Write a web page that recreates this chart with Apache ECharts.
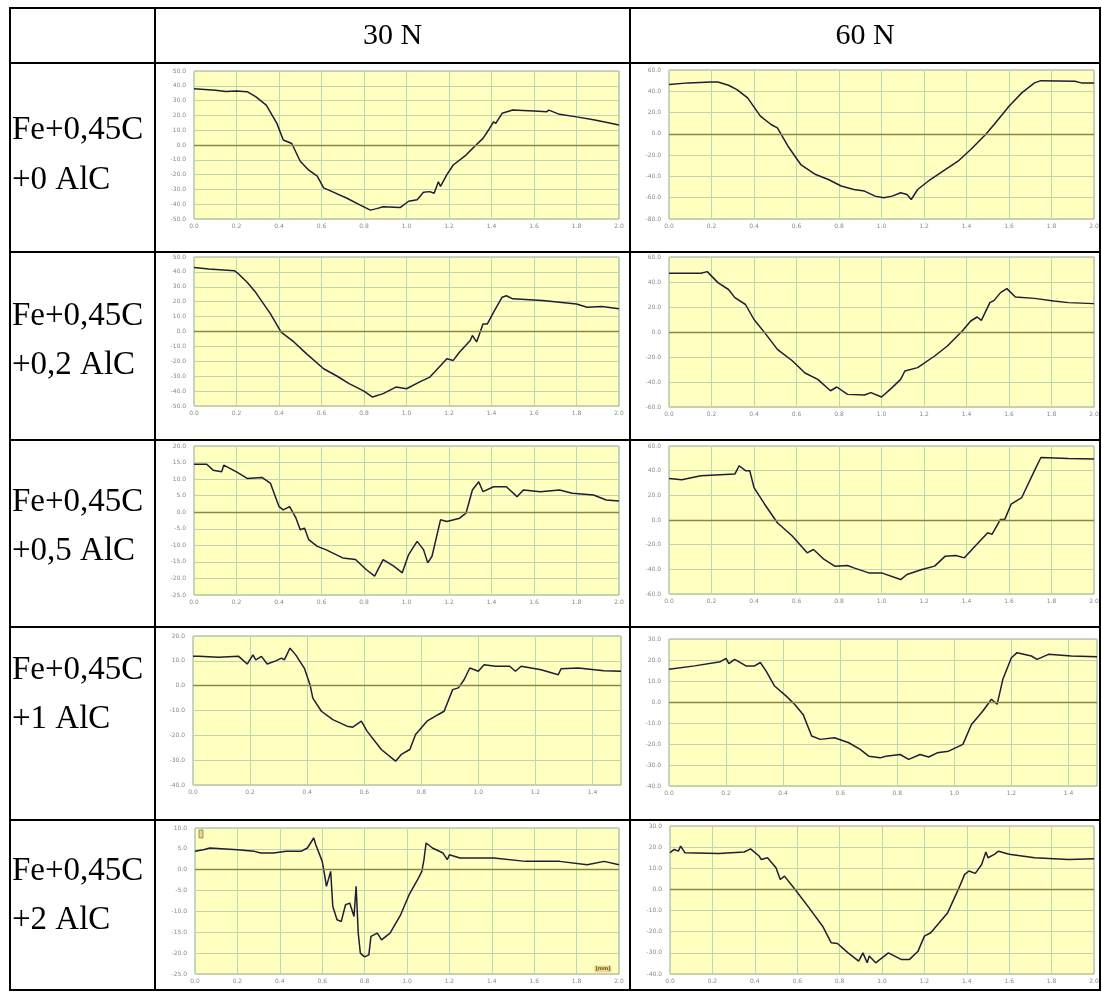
<!DOCTYPE html>
<html>
<head>
<meta charset="utf-8">
<script src="https://cdn.jsdelivr.net/npm/echarts@6/dist/echarts.min.js"></script>
<style>
html,body{margin:0;padding:0;background:#fff;}
#chart{width:1102px;height:1004px;}
</style>
</head>
<body>
<div id="chart"></div>
<script>
// ---------- DATA ----------
const columnTitles = ["30 N", "60 N"];
const rowLine1 = ["Fe+0,45C", "Fe+0,45C", "Fe+0,45C", "Fe+0,45C", "Fe+0,45C"];
const rowLine2 = ["+0 AlC", "+0,2 AlC", "+0,5 AlC", "+1 AlC", "+2 AlC"];

// y axis ranges per chart [min, max, step]
const yAxisTicks = {
  r0_30: [-50, 50, 10], r0_60: [-80, 60, 20],
  r1_30: [-50, 50, 10], r1_60: [-60, 60, 20],
  r2_30: [-25, 20, 5],  r2_60: [-60, 60, 20],
  r3_30: [-40, 20, 10], r3_60: [-40, 30, 10],
  r4_30: [-25, 10, 5],  r4_60: [-40, 30, 10]
};
// x axis ranges per chart [min, max, step]
const xAxisTicks = {
  r0_30: [0, 2.0, 0.2], r0_60: [0, 2.0, 0.2],
  r1_30: [0, 2.0, 0.2], r1_60: [0, 2.0, 0.2],
  r2_30: [0, 2.0, 0.2], r2_60: [0, 2.0, 0.2],
  r3_30: [0, 1.5, 0.2], r3_60: [0, 1.5, 0.2],
  r4_30: [0, 2.0, 0.2], r4_60: [0, 2.0, 0.2]
};

const r0_30 = [[0,38],[0.05,37.5],[0.1,37],[0.15,36.2],[0.2,36.5],[0.25,36],[0.29,32.7],[0.34,27],[0.39,14.6],[0.42,3.4],[0.46,1],[0.5,-11],[0.54,-17],[0.58,-21],[0.61,-29],[0.65,-31.5],[0.72,-36],[0.78,-40.5],[0.83,-44],[0.86,-43],[0.89,-41.7],[0.97,-42.3],[1.01,-38],[1.05,-37],[1.08,-32],[1.11,-31.5],[1.13,-32.6],[1.15,-24.8],[1.16,-28],[1.19,-20],[1.22,-13.5],[1.28,-6.8],[1.32,-1],[1.36,4.5],[1.39,11],[1.41,15.7],[1.42,14.6],[1.45,21.4],[1.5,23.6],[1.6,23],[1.66,22.5],[1.67,23.6],[1.72,20.7],[1.8,19],[1.88,17],[1.95,15],[2.0,13.5]];
const r0_60 = [[0,46.3],[0.09,47.9],[0.2,48.8],[0.23,48.8],[0.28,45.7],[0.32,41.6],[0.37,33.8],[0.43,16.6],[0.48,8.8],[0.51,5.6],[0.56,-11.6],[0.62,-28.8],[0.69,-38.2],[0.75,-42.9],[0.81,-49],[0.87,-52.3],[0.92,-53.8],[0.97,-58.5],[1.01,-60],[1.05,-58.5],[1.09,-55.4],[1.12,-57],[1.14,-61.7],[1.17,-52.3],[1.23,-42.9],[1.3,-33.5],[1.36,-25.7],[1.42,-14.7],[1.49,-0.6],[1.53,8.8],[1.6,26],[1.66,38.5],[1.72,47.9],[1.75,50],[1.91,49.5],[1.94,47.9],[2.0,47.9]];
const r1_30 = [[0,43],[0.07,42],[0.19,40.8],[0.21,38.6],[0.25,33],[0.29,26.3],[0.36,11.8],[0.41,-0.4],[0.47,-7],[0.53,-15],[0.61,-25],[0.67,-29.7],[0.73,-35],[0.8,-40],[0.84,-44],[0.89,-41.7],[0.95,-37.3],[1.0,-38.4],[1.06,-34],[1.11,-30.6],[1.14,-26],[1.19,-18.3],[1.22,-19.4],[1.25,-13.8],[1.3,-6],[1.31,-2.7],[1.33,-7],[1.36,5],[1.38,5],[1.41,13],[1.45,23],[1.47,24],[1.5,21.9],[1.64,20.8],[1.8,18.5],[1.85,16.3],[1.92,16.7],[2.0,15.2]];
const r1_60 = [[0,47],[0.15,47],[0.18,48.3],[0.23,39.5],[0.28,34],[0.31,27.5],[0.36,22],[0.4,10],[0.45,-0.5],[0.51,-13.9],[0.58,-23],[0.64,-32.8],[0.7,-37.9],[0.76,-47],[0.79,-44],[0.84,-49.9],[0.92,-50.4],[0.95,-48.5],[1.0,-52],[1.05,-44.5],[1.09,-37.9],[1.11,-31.2],[1.17,-28.5],[1.25,-19.2],[1.31,-11.2],[1.38,0.8],[1.42,8.8],[1.45,12],[1.47,9.3],[1.51,23.5],[1.53,25.3],[1.56,31.5],[1.59,34.7],[1.63,28],[1.72,26.9],[1.81,24.8],[1.88,23.5],[2.0,22.7]];
const r2_30 = [[0,14.5],[0.06,14.5],[0.09,12.7],[0.13,12.2],[0.14,14.2],[0.2,12.2],[0.25,10.2],[0.32,10.5],[0.36,8.7],[0.4,1.7],[0.42,0.7],[0.45,1.7],[0.48,-1.8],[0.5,-5.3],[0.52,-4.8],[0.54,-8.3],[0.58,-10.3],[0.62,-11.3],[0.7,-13.8],[0.76,-14.3],[0.81,-17.3],[0.85,-19.3],[0.89,-14.3],[0.94,-16.3],[0.97,-17.8],[0.98,-18.3],[1.01,-12.8],[1.05,-8.8],[1.08,-11.3],[1.1,-15.3],[1.12,-13.3],[1.16,-2.3],[1.19,-2.8],[1.25,-1.8],[1.28,-0.3],[1.31,6.7],[1.34,9.2],[1.36,6.2],[1.41,7.7],[1.47,7.7],[1.52,4.7],[1.55,6.7],[1.63,6.2],[1.72,6.7],[1.78,5.7],[1.88,5.2],[1.94,3.7],[2.0,3.4]];
const r2_60 = [[0,33.6],[0.06,32.6],[0.15,35.8],[0.31,37.2],[0.33,44],[0.36,40],[0.38,40],[0.4,26.3],[0.45,12.8],[0.51,-2.2],[0.58,-13],[0.65,-26.6],[0.68,-23.9],[0.73,-32],[0.78,-37.4],[0.84,-36.9],[0.87,-38.8],[0.94,-42.9],[1.0,-42.9],[1.09,-48.3],[1.12,-44.2],[1.19,-40.2],[1.25,-37.4],[1.3,-29.3],[1.35,-28.8],[1.39,-30.7],[1.44,-21.2],[1.5,-10.3],[1.52,-11.7],[1.56,0.5],[1.58,0.5],[1.61,12.8],[1.66,18.2],[1.72,40],[1.75,50.7],[1.88,49.9],[2.0,49.4]];
const r3_30 = [[0,11.8],[0.02,11.8],[0.09,11.4],[0.16,11.8],[0.19,8.7],[0.21,12.4],[0.22,10.4],[0.24,11.8],[0.26,8.7],[0.29,10],[0.31,11.1],[0.32,10.4],[0.34,15.1],[0.36,12.4],[0.39,7.1],[0.41,0.4],[0.42,-5],[0.45,-10.3],[0.49,-13.7],[0.54,-16.3],[0.56,-16.7],[0.59,-14.3],[0.61,-18.3],[0.66,-25.7],[0.71,-30.4],[0.73,-27.7],[0.76,-25.7],[0.78,-19.7],[0.82,-14.3],[0.86,-11.6],[0.88,-10.3],[0.91,-1.6],[0.93,-0.9],[0.95,2.4],[0.97,7.1],[1.0,5.8],[1.02,8.4],[1.06,7.8],[1.11,7.8],[1.13,5.8],[1.15,7.8],[1.22,6.4],[1.28,4.4],[1.29,6.8],[1.35,7.1],[1.44,6],[1.5,5.8]];
const r3_60 = [[0,15.6],[0.09,17.2],[0.18,19.2],[0.2,20.8],[0.21,18.3],[0.23,20.3],[0.27,17.2],[0.3,17.2],[0.32,18.8],[0.34,14.8],[0.37,7.6],[0.41,2.9],[0.44,-1.1],[0.47,-5.9],[0.5,-16.2],[0.53,-17.8],[0.58,-17],[0.63,-19.4],[0.67,-22.6],[0.7,-25.8],[0.74,-26.6],[0.76,-25.8],[0.81,-25],[0.84,-27.3],[0.88,-25],[0.91,-26.2],[0.94,-24.2],[0.98,-23.4],[1.03,-20.2],[1.06,-10.7],[1.08,-7.5],[1.1,-4.3],[1.13,1.3],[1.15,-1.1],[1.17,10.8],[1.2,21.1],[1.22,23.5],[1.27,21.9],[1.29,20.3],[1.33,22.7],[1.41,21.9],[1.5,21.5]];
const r4_30 = [[0,4.4],[0.04,4.8],[0.07,5.2],[0.2,4.8],[0.28,4.4],[0.31,4],[0.37,4],[0.43,4.4],[0.5,4.4],[0.53,5.2],[0.56,7.6],[0.57,6],[0.6,2],[0.61,-0.8],[0.62,-4],[0.64,-0.4],[0.65,-8.8],[0.67,-12],[0.69,-12.4],[0.71,-8.4],[0.73,-8],[0.75,-11.2],[0.76,-4],[0.77,-15.2],[0.78,-20],[0.8,-20.9],[0.82,-20.4],[0.83,-16],[0.86,-15.2],[0.88,-16.8],[0.92,-15.2],[0.97,-10.8],[1.01,-6],[1.05,-2.4],[1.07,-0.4],[1.08,2.4],[1.09,6.4],[1.12,5.2],[1.17,4],[1.19,2.4],[1.2,3.6],[1.25,2.8],[1.41,2.8],[1.56,2],[1.72,2],[1.85,1.2],[1.93,2],[2.0,1.2]];
const r4_60 = [[0,17.4],[0.02,18.9],[0.04,18.1],[0.05,20.5],[0.07,17.4],[0.23,17],[0.35,17.7],[0.38,19.2],[0.42,15.8],[0.43,14.2],[0.46,15],[0.5,10.3],[0.52,4.7],[0.54,6.3],[0.59,0],[0.65,-7.9],[0.72,-17.4],[0.76,-25.2],[0.79,-25.6],[0.84,-30],[0.89,-33.9],[0.91,-30],[0.93,-34.7],[0.94,-31.5],[0.97,-34.7],[1.03,-30],[1.09,-33.1],[1.13,-33.1],[1.17,-29.2],[1.2,-22.1],[1.23,-20.5],[1.27,-15.8],[1.31,-11],[1.36,0],[1.39,7.1],[1.41,8.7],[1.44,7.6],[1.47,11.8],[1.49,17.7],[1.5,15],[1.53,16.6],[1.55,18.1],[1.6,16.6],[1.72,15],[1.88,14.2],[2.0,14.5]];

const seriesData = {r0_30, r0_60, r1_30, r1_60, r2_30, r2_60, r3_30, r3_60, r4_30, r4_60};

// ---------- LAYOUT ----------
const rowTops = [8, 63, 252, 440, 627, 820, 990]; // table horizontal lines
const colXs = [10, 155, 630, 1100];
const labelYs = [[130, 180], [316, 365], [502, 551], [670, 719], [871, 920]];
const plotBoxes = {
  r0_30: [194, 71, 425, 148], r0_60: [669, 70, 425, 149],
  r1_30: [194, 257, 425, 149], r1_60: [669, 257, 425, 150],
  r2_30: [194, 446, 425, 149], r2_60: [669, 446, 425, 148],
  r3_30: [193, 636, 428, 149], r3_60: [669, 639, 428, 147],
  r4_30: [195, 828, 424, 146], r4_60: [670, 826, 424, 148]
};
const keys = ["r0_30","r0_60","r1_30","r1_60","r2_30","r2_60","r3_30","r3_60","r4_30","r4_60"];

const grids = [], xAxes = [], yAxes = [], series = [];
keys.forEach((k, i) => {
  const b = plotBoxes[k];
  grids.push({left: b[0], top: b[1], width: b[2], height: b[3], show: true,
    backgroundColor: '#ffffc0', borderColor: '#a0a098', borderWidth: 1, containLabel: false});
  const xt = xAxisTicks[k], yt = yAxisTicks[k];
  xAxes.push({type: 'value', gridIndex: i, min: xt[0], max: xt[1], interval: xt[2],
    axisLine: {show: false}, axisTick: {show: false},
    axisLabel: {fontSize: 6, color: '#8a8a8a', margin: 4, fontFamily: 'DejaVu Sans',
      showMaxLabel: xt[1] === 2.0, formatter: v => v.toFixed(1)},
    splitLine: {show: true, lineStyle: {color: '#b4dcae', width: 1}}});
  yAxes.push({type: 'value', gridIndex: i, min: yt[0], max: yt[1], interval: yt[2],
    axisLine: {show: false}, axisTick: {show: false},
    axisLabel: {fontSize: 6, color: '#8a8a8a', margin: 8, fontFamily: 'DejaVu Sans',
      formatter: v => v.toFixed(1)},
    splitLine: {show: true, lineStyle: {color: '#c2d2ac', width: 1}}});
  series.push({type: 'line', xAxisIndex: i, yAxisIndex: i, data: seriesData[k],
    symbol: 'none', smooth: false, lineStyle: {color: '#1e1e38', width: 1.5},
    markLine: {silent: true, symbol: 'none', label: {show: false},
      lineStyle: {color: '#8a8648', type: 'solid', width: 1.3}, data: [{yAxis: 0}]}});
});

// ---------- TABLE GRAPHICS ----------
const graphic = [];
const L = colXs[0], R = colXs[3];
rowTops.forEach(y => graphic.push({type: 'line', shape: {x1: L - 1, y1: y, x2: R + 1, y2: y},
  style: {stroke: '#000', lineWidth: 2}, z: 100}));
colXs.forEach(x => graphic.push({type: 'line', shape: {x1: x, y1: rowTops[0], x2: x, y2: rowTops[6]},
  style: {stroke: '#000', lineWidth: 2}, z: 100}));
columnTitles.forEach((t, i) => graphic.push({type: 'text', x: (colXs[i + 1] + colXs[i + 2]) / 2, y: (rowTops[0] + rowTops[1]) / 2 + 1,
  style: {text: t, font: '30px "Liberation Serif"', fill: '#000', align: 'center', verticalAlign: 'middle'}, z: 100}));
rowLine1.forEach((t, i) => {
  graphic.push({type: 'text', x: 12, y: labelYs[i][0], style: {text: t, font: '33px "Liberation Serif"', fill: '#000', verticalAlign: 'middle'}, z: 100});
  graphic.push({type: 'text', x: 12, y: labelYs[i][1], style: {text: rowLine2[i], font: '33px "Liberation Serif"', fill: '#000', verticalAlign: 'middle'}, z: 100});
});
// "[mm]" unit tag in the last 30 N plot
graphic.push({type: 'text', x: plotBoxes.r4_30[0] + plotBoxes.r4_30[2] - 16, y: plotBoxes.r4_30[1] + plotBoxes.r4_30[3] - 5,
  style: {text: '[mm]', font: 'bold 5px "DejaVu Sans"', fill: '#6a5a20', backgroundColor: '#e8d890', padding: [1, 1], align: 'center', verticalAlign: 'middle'}, z: 50});
graphic.push({type: 'rect', shape: {x: plotBoxes.r4_30[0] + 4, y: plotBoxes.r4_30[1] + 2, width: 4, height: 8},
  style: {fill: '#e8d890', stroke: '#6a5a20', lineWidth: 0.6}, z: 50});

const chart = echarts.init(document.getElementById('chart'), null, {renderer: 'canvas'});
chart.setOption({
  animation: false,
  backgroundColor: '#ffffff',
  grid: grids, xAxis: xAxes, yAxis: yAxes, series: series, graphic: graphic
});
</script>
</body>
</html>
